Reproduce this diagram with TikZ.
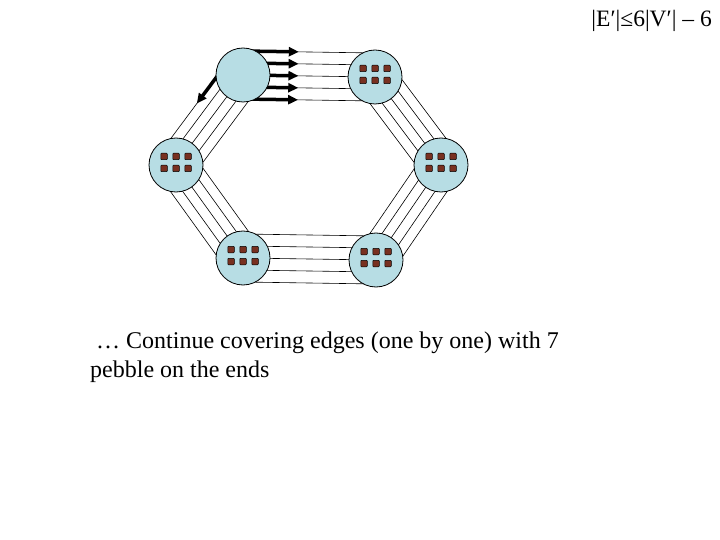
\documentclass[tikz,border=0pt]{standalone}
\usepackage{fontspec}
\setmainfont{Liberation Serif}
\usetikzlibrary{arrows.meta,calc,backgrounds}
\definecolor{vertexfill}{RGB}{183,221,228}
\definecolor{pebblefill}{RGB}{120,48,32}
\tikzset{x=1pt, y=-1pt, % One unit is one pixel of the slide, y grows downwards
        vertex/.style={ % Sets the properties for each vertex
            circle,
            draw,
            line width=0.8pt,
            fill=vertexfill,
            minimum size=54pt,
            inner sep=0pt},
        wire/.style={ % One of the parallel edges
            draw,
            line width=0.6pt},
        move/.style={ % Edge already covered
            draw,
            line width=3.5pt,
            -{Triangle[length=10pt,width=9pt]}},
        pebble/.style={ % Pebble on a vertex
            draw,
            line width=0.5pt,
            fill=pebblefill,
            rounded corners=0.8pt}
        }

\begin{document}
\begin{tikzpicture}
    \useasboundingbox (0,0) rectangle (720,540);

    \node[vertex] (tl) at (243,75) {};
    \node[vertex] (tr) at (375,77) {};
    \node[vertex] (l) at (176,165) {};
    \node[vertex] (r) at (441,165) {};
    \node[vertex] (bl) at (243,258) {};
    \node[vertex] (br) at (376,260) {};

    % end points of the covered parts
    \coordinate (tm) at ($(tl)!0.42!(tr)$);
    \coordinate (lm) at ($(tl)!0.45!(l)$);

    \begin{scope}[on background layer]
        % five parallel edges between neighbours, \s is their spacing
        \foreach \a/\b/\s in {tl/tr/12, tr/r/10, r/br/10, br/bl/12, bl/l/10, l/tl/10}
            \foreach \k in {-2,-1,0,1,2}
                \draw[wire] ($(\a)!\k*\s pt!90:(\b)$) -- ($(\b)!\k*\s pt!-90:(\a)$);
        \foreach \d in {-24,-12,0,12,24}
            \draw[move] ($(tl)!\d pt!90:(tr)$) -- ($(tm)!\d pt!90:(tr)$);
        \draw[move] ($(tl)!-20pt!90:(l)$) -- ($(lm)!-20pt!90:(l)$);
    \end{scope}

    % six pebbles on every vertex but the first
    \foreach \n in {tr, l, r, bl, br}
        \foreach \dx in {-12,0,12}
            \foreach \dy in {-8.5,3.5}
                \draw[pebble] ($(\n)+(\dx,\dy)+(-3.25,-3.25)$) rectangle ++(6.5,6.5);

    \node[anchor=base east, inner sep=0pt, font=\fontsize{23.5}{28}\selectfont]
        (bound) at (712,27) {|E′|≤6|V′| – 6};
    \node[anchor=north west, inner sep=0pt, align=left,
          font=\fontsize{24}{29}\selectfont]
        (caption) at (90,332) {\hspace*{6pt}… Continue covering edges (one by one) with 7\\pebble on the ends};
\end{tikzpicture}
\end{document}
